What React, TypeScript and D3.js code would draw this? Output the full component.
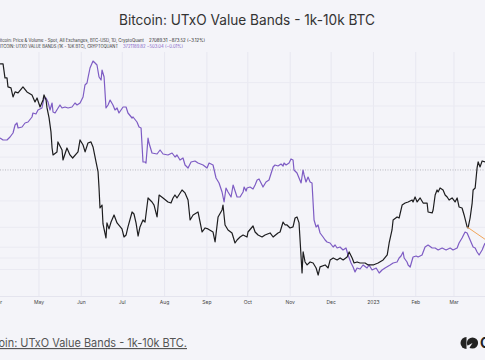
import React, { useEffect, useRef } from "react";
import * as d3 from "d3";

const W = 485;
const H = 360;
const START = Date.UTC(2022, 3, 1); // day 0 = 1 Apr 2022
const DAY = 864e5;

// BTC-USD close, days counted from 1 Apr 2022
const btcDay = [1.5, 3.7, 5.1, 6.6, 7.3, 9.5, 11.0, 12.5, 14.7, 18.3, 21.2, 24.9, 27.1, 28.6, 30.8, 33.0, 33.7, 35.2, 35.9, 37.4, 38.8, 39.6, 40.3, 43.2, 43.9, 46.9, 47.6, 50.5, 52.7, 54.7, 58.6, 60.1, 62.3, 63.8, 65.9, 68.1, 69.6, 71.8, 73.3, 74.0, 74.7, 76.2, 76.9, 79.1, 79.8, 81.3, 82.8, 85.0, 87.2, 90.8, 92.3, 93.8, 95.2, 98.2, 99.6, 101.1, 102.6, 104.0, 106.2, 107.7, 109.9, 112.8, 114.3, 116.5, 118.0, 120.9, 124.5, 126.7, 128.2, 129.6, 131.1, 134.8, 137.0, 139.2, 140.7, 142.9, 146.5, 149.5, 151.7, 153.8, 157.5, 159.0, 161.2, 164.1, 164.8, 166.3, 168.5, 171.4, 173.6, 175.1, 177.3, 179.5, 182.4, 183.1, 186.8, 188.3, 190.5, 193.4, 195.6, 199.3, 201.5, 205.1, 206.6, 208.8, 210.3, 211.7, 213.9, 216.1, 217.6, 219.0, 220.5, 222.7, 223.5, 224.9, 226.4, 228.6, 230.8, 233.0, 234.5, 235.9, 239.6, 241.8, 243.3, 245.5, 248.4, 250.6, 252.8, 255.7, 257.2, 259.4, 260.8, 263.0, 265.2, 268.9, 271.1, 274.8, 278.4, 282.1, 285.1, 286.5, 288.6, 289.4, 292.3, 293.8, 296.0, 298.2, 300.4, 303.3, 304.0, 305.5, 307.0, 309.2, 311.4, 314.3, 315.0, 318.0, 318.7, 320.2, 321.6, 322.4, 323.8, 326.0, 327.5, 329.0, 330.4, 332.6, 334.8, 336.3, 337.7, 339.9, 341.4, 343.6, 344.3, 345.8, 347.3, 348.0, 349.5, 350.9, 351.7, 353.1, 354.6, 356.8];
const btcPrice = [47470, 47470, 44080, 44080, 42040, 41810, 39870, 40940, 40720, 42040, 40940, 40290, 38820, 39650, 37800, 39230, 40290, 39230, 37610, 35670, 33130, 30430, 29330, 29800, 31420, 30110, 28560, 30430, 29330, 28860, 29800, 31750, 30920, 29800, 31250, 31420, 30600, 28260, 26810, 24630, 22150, 22500, 20360, 18900, 20470, 19830, 20570, 21350, 20470, 19830, 19000, 19200, 20040, 21690, 21460, 20470, 19100, 20040, 20790, 20570, 23360, 22870, 22500, 21130, 23730, 23360, 22870, 22740, 23360, 23730, 23360, 24370, 23990, 23110, 20790, 21350, 21690, 19510, 19930, 19830, 19510, 18510, 21130, 21920, 22500, 20250, 19720, 19410, 18410, 18700, 19000, 19200, 19000, 19510, 20140, 19510, 19200, 19000, 19200, 19410, 19000, 19410, 19510, 20570, 20250, 20250, 19930, 20040, 21010, 21130, 20470, 15710, 17560, 16650, 16390, 16650, 16560, 16130, 15540, 16220, 16390, 16130, 16830, 17010, 16830, 17010, 16830, 17100, 17560, 17010, 16560, 16650, 16560, 16560, 16390, 16390, 16560, 16830, 17280, 18410, 19720, 20790, 21130, 21010, 22500, 22740, 22870, 23110, 22870, 23480, 22870, 23360, 22740, 22740, 21690, 21580, 21920, 23730, 24370, 24110, 24630, 24370, 23730, 23480, 23110, 23360, 22870, 23360, 22270, 22150, 21350, 20040, 19930, 21010, 22740, 24370, 24630, 27380, 28260, 27530, 28410, 28260];

// UTXO value band 1k-10k BTC (million BTC), days from 1 Apr 2022
const bandDay = [1.5, 3.7, 6.6, 8.8, 11.0, 12.5, 13.9, 14.7, 17.6, 19.8, 22.0, 24.9, 25.6, 27.8, 29.3, 32.2, 33.7, 35.2, 36.6, 38.1, 39.6, 40.3, 41.8, 44.0, 45.4, 46.9, 49.1, 51.3, 54.2, 56.4, 57.9, 60.1, 62.3, 63.7, 65.2, 65.9, 67.4, 69.6, 71.1, 72.5, 74.0, 75.5, 76.2, 77.7, 79.1, 80.6, 82.1, 84.2, 85.7, 87.2, 88.6, 90.1, 91.6, 93.8, 95.2, 98.2, 98.9, 101.8, 103.3, 104.8, 106.2, 107.7, 108.4, 109.9, 110.6, 112.8, 116.5, 118.7, 120.9, 124.5, 127.5, 129.7, 131.1, 133.3, 135.5, 137.0, 139.2, 141.4, 144.3, 146.5, 150.2, 153.1, 154.6, 157.5, 159.7, 161.9, 164.1, 165.6, 167.0, 168.5, 170.7, 172.2, 175.1, 177.3, 179.5, 180.3, 181.7, 182.4, 184.6, 186.8, 188.3, 189.8, 191.2, 193.4, 194.1, 196.3, 198.5, 201.5, 202.9, 205.1, 207.3, 208.8, 209.5, 211.0, 213.2, 214.6, 216.1, 216.8, 218.3, 219.0, 220.5, 222.0, 223.4, 224.2, 225.6, 227.1, 228.6, 230.0, 231.5, 233.0, 234.4, 235.9, 238.1, 239.6, 241.0, 243.2, 245.5, 246.9, 248.4, 250.5, 252.7, 254.9, 256.4, 258.6, 260.1, 261.5, 263.0, 265.2, 267.4, 270.3, 271.8, 274.0, 277.0, 279.2, 281.3, 283.5, 287.2, 289.4, 292.3, 293.8, 295.2, 296.7, 297.5, 299.6, 300.4, 301.9, 304.0, 306.3, 307.7, 310.6, 312.8, 315.0, 318.0, 320.2, 322.4, 325.3, 328.2, 331.2, 333.3, 336.3, 337.7, 339.9, 342.1, 343.6, 345.8, 348.0, 349.5, 350.9, 352.4, 354.6, 356.1, 356.8];
const bandValue = [4.144, 4.136, 4.136, 4.148, 4.164, 4.196, 4.204, 4.184, 4.188, 4.204, 4.208, 4.228, 4.244, 4.240, 4.256, 4.264, 4.304, 4.304, 4.288, 4.256, 4.284, 4.248, 4.244, 4.264, 4.276, 4.264, 4.268, 4.264, 4.268, 4.284, 4.276, 4.284, 4.308, 4.356, 4.364, 4.384, 4.424, 4.452, 4.444, 4.436, 4.388, 4.376, 4.416, 4.388, 4.264, 4.276, 4.296, 4.276, 4.256, 4.264, 4.244, 4.256, 4.268, 4.268, 4.244, 4.224, 4.228, 4.208, 4.188, 4.184, 4.048, 4.048, 4.044, 4.144, 4.124, 4.084, 4.080, 4.096, 4.080, 4.076, 4.084, 4.068, 4.076, 4.056, 4.064, 4.036, 4.024, 4.048, 4.052, 4.044, 4.036, 4.024, 4.044, 4.036, 3.984, 3.964, 3.928, 3.888, 3.944, 3.928, 3.908, 3.956, 3.908, 3.908, 3.928, 3.948, 3.932, 3.944, 3.948, 3.940, 3.956, 3.976, 3.980, 3.956, 3.948, 3.968, 3.976, 4.028, 4.036, 4.032, 4.040, 4.032, 4.044, 4.036, 4.044, 4.060, 4.056, 4.016, 4.008, 4.004, 3.984, 3.964, 4.016, 3.996, 3.968, 3.988, 3.968, 3.964, 3.816, 3.788, 3.796, 3.764, 3.748, 3.736, 3.728, 3.724, 3.708, 3.716, 3.704, 3.708, 3.696, 3.704, 3.676, 3.644, 3.628, 3.608, 3.624, 3.620, 3.636, 3.624, 3.636, 3.616, 3.624, 3.604, 3.616, 3.624, 3.636, 3.644, 3.648, 3.664, 3.672, 3.688, 3.664, 3.648, 3.636, 3.628, 3.668, 3.672, 3.668, 3.676, 3.708, 3.716, 3.704, 3.704, 3.696, 3.704, 3.696, 3.704, 3.696, 3.704, 3.724, 3.744, 3.768, 3.764, 3.736, 3.708, 3.704, 3.688, 3.676, 3.696, 3.716, 3.724];

// drawn trend line (orange)
const trendDay = [343.6, 375];
const trendPrice = [20040, 17140];

const monthLabels = ["Apr", "May", "Jun", "Jul", "Aug", "Sep", "Oct", "Nov", "Dec", "2023", "Feb", "Mar"];
const priceGrid = [16000, 17000, 18000, 20000, 23000, 29000, 31000, 34000, 38000, 43000];
const lastPrice = 27089.31;

export default function App() {
  const ref = useRef<SVGSVGElement>(null);

  useEffect(() => {
    const svg = d3.select(ref.current);
    svg.selectAll("*").remove();
    const toDate = (d: number) => new Date(START + d * DAY);

    // scales
    const x = d3.scaleUtc()
      .domain([new Date(START), new Date(Date.UTC(2023, 2, 1))])
      .range([-2, 454]);
    const yPrice = d3.scaleLog().domain([15000, 50000]).range([281.7, 54.1]);
    const yBand = d3.scaleLinear().domain([3.5, 4.5]).range([299, 49]);

    svg.append("rect").attr("width", W).attr("height", H).attr("fill", "#f4f4f9");

    // grid
    const months = d3.utcMonth.range(new Date(START), new Date(Date.UTC(2023, 3, 1)));
    svg.append("g").selectAll("line").data(months).join("line")
      .attr("x1", d => x(d)).attr("x2", d => x(d))
      .attr("y1", 52).attr("y2", 296)
      .attr("stroke", "#e7e7f0").attr("stroke-width", 1);
    svg.append("g").selectAll("line").data(priceGrid).join("line")
      .attr("x1", 0).attr("x2", W)
      .attr("y1", d => yPrice(d)).attr("y2", d => yPrice(d))
      .attr("stroke", "#eaeaf2").attr("stroke-width", 1);
    svg.append("line")
      .attr("x1", 0).attr("x2", W).attr("y1", 296.5).attr("y2", 296.5)
      .attr("stroke", "#e4e4ee");

    // last price dotted line
    svg.append("line")
      .attr("x1", 0).attr("x2", W)
      .attr("y1", yPrice(lastPrice)).attr("y2", yPrice(lastPrice))
      .attr("stroke", "#a8a8b0").attr("stroke-width", 0.8)
      .attr("stroke-dasharray", "1,1.5");

    // month labels
    svg.append("g").selectAll("text").data(months).join("text")
      .attr("x", d => x(d)).attr("y", 304)
      .attr("text-anchor", "middle")
      .attr("font-family", "Inter, 'Open Sans', sans-serif")
      .attr("font-size", 5).attr("fill", "#444")
      .text((d, i) => monthLabels[i]);

    // UTXO band line
    const bandLine = d3.line<number>()
      .x((d, i) => x(toDate(bandDay[i])))
      .y(d => yBand(d));
    svg.append("path").datum(bandValue)
      .attr("fill", "none").attr("stroke", "#7e5cc4")
      .attr("stroke-width", 1.2).attr("stroke-linejoin", "round")
      .attr("d", bandLine);

    // price line
    const priceLine = d3.line<number>()
      .x((d, i) => x(toDate(btcDay[i])))
      .y(d => yPrice(d));
    svg.append("path").datum(btcPrice)
      .attr("fill", "none").attr("stroke", "#1d1d1f")
      .attr("stroke-width", 1.2).attr("stroke-linejoin", "round")
      .attr("d", priceLine);

    // orange trend line
    const trendLine = d3.line<number>()
      .x((d, i) => x(toDate(trendDay[i])))
      .y(d => yPrice(d));
    svg.append("path").datum(trendPrice)
      .attr("fill", "none").attr("stroke", "#f2a65a")
      .attr("stroke-width", 1).attr("d", trendLine);

    // title
    svg.append("text")
      .attr("x", 247).attr("y", 25)
      .attr("text-anchor", "middle")
      .attr("font-family", "Inter, 'Open Sans', sans-serif")
      .attr("font-size", 14).attr("fill", "#333")
      .attr("textLength", 256).attr("lengthAdjust", "spacingAndGlyphs")
      .text("Bitcoin: UTxO Value Bands - 1k-10k BTC");

    // legend
    const legend = svg.append("g")
      .attr("font-family", "Inter, 'Open Sans', sans-serif")
      .attr("font-size", 4.2);
    legend.append("text").attr("x", -3).attr("y", 42)
      .attr("fill", "#333").attr("textLength", 147).attr("lengthAdjust", "spacingAndGlyphs")
      .text("Bitcoin: Price & Volume - Spot, All Exchanges, BTC-USD, 1D, CryptoQuant");
    legend.append("text").attr("x", 149).attr("y", 42)
      .attr("fill", "#222").attr("textLength", 56).attr("lengthAdjust", "spacingAndGlyphs")
      .text("27089.31  −873.52 (−3.12%)");
    legend.append("text").attr("x", -3).attr("y", 48)
      .attr("fill", "#333").attr("textLength", 121).attr("lengthAdjust", "spacingAndGlyphs")
      .text("BITCOIN: UTXO VALUE BANDS [1K - 10K BTC], CRYPTOQUANT");
    legend.append("text").attr("x", 123).attr("y", 48)
      .attr("fill", "#7e5cc4").attr("textLength", 60).attr("lengthAdjust", "spacingAndGlyphs")
      .text("3721189.82  −503.04 (−0.01%)");

    // footer source text
    svg.append("text")
      .attr("x", -21).attr("y", 347)
      .attr("font-family", "Inter, 'Open Sans', sans-serif")
      .attr("font-size", 11.5).attr("fill", "#555")
      .attr("text-decoration", "underline")
      .attr("textLength", 208).attr("lengthAdjust", "spacingAndGlyphs")
      .text("Bitcoin: UTxO Value Bands - 1k-10k BTC.");

    // logo
    const logo = svg.append("g").attr("fill", "#222");
    logo.append("path").attr("d", "M466.5,337 A6,6 0 0 0 466.5,349 Z");
    logo.append("circle").attr("cx", 472.5).attr("cy", 343).attr("r", 5.6);
    logo.append("path").attr("d", "M472.5,343 L467,346 L469,348.5 Z").attr("fill", "#f4f4f9");
    logo.append("text").attr("x", 480).attr("y", 348)
      .attr("font-family", "Inter, sans-serif").attr("font-weight", 700)
      .attr("font-size", 14).text("C");
  }, []);

  return (
    <svg ref={ref} width={W} height={H} style={{ position: "absolute", left: 0, top: 0 }} />
  );
}
